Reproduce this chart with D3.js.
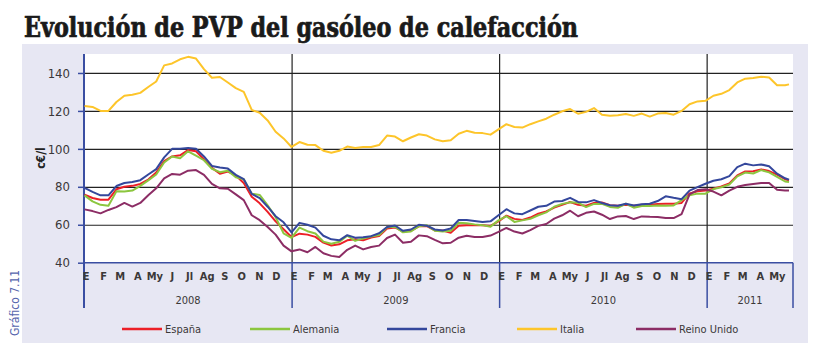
<!DOCTYPE html>
<html>
<head>
<meta charset="utf-8">
<script src="https://cdn.jsdelivr.net/npm/d3@7"></script>
<style>
  body { margin: 0; background: #fff; }
  text { font-family: "Liberation Sans Narrow", "DejaVu Sans", sans-serif; font-stretch: condensed; }
</style>
</head>
<body>
<div id="chart"></div>
<script>
// semanas desde el 1 de enero de 2008 (una lectura cada dos semanas)
var semanas = d3.range(0, 177, 2).concat([177])
var meses = ["E", "F", "M", "A", "My", "J", "Jl", "Ag", "S", "O", "N", "D"]
var anios = ["2008", "2009", "2010", "2011"]
var yTicks = [40, 60, 80, 100, 120, 140]

var espana = [75.9, 74.1, 73.2, 73.2, 78.7, 80, 80.5, 81.5, 83.8, 87.5,
  93.6, 96, 96.6, 99.4, 98.7, 94.5, 90, 86.9, 88, 86,
  82, 74.8, 71.3, 66.8, 61.8, 57.6, 53.5, 55.3, 54.8, 53.6,
  50.6, 49.1, 49.7, 51.8, 52.3, 51.8, 53.3, 54, 58, 58.6,
  56.4, 56.8, 59.2, 59.3, 57, 57, 55.8, 59.5, 59.7, 59.7,
  59.7, 59.4, 61.8, 64.8, 63.1, 62.5, 63.8, 65.8, 67, 69,
  70.5, 72, 70.5, 70, 71.5, 71.7, 70.3, 70, 70.5, 70,
  70.5, 70.6, 71, 71.1, 71.1, 71.5, 76.5, 77.6, 78.1, 79,
  80.2, 81.8, 86, 88.1, 88.2, 89.2, 88.3, 86.4, 84,
  83.4]

var alemania = [75.5, 72.3, 70.5, 70, 77.6, 77.5, 78, 80.5, 83.4, 86.5,
  92.8, 96, 95, 98.7, 96.4, 94, 89.5, 87.7, 88.5, 85,
  84, 76.4, 75.7, 70.2, 64, 55.5, 53.1, 58.5, 56.6, 55.4,
  51.1, 50, 51, 54.2, 51.5, 52.8, 53.8, 54.6, 58.7, 59,
  56, 56.5, 59.2, 59.7, 56.9, 56.5, 56.8, 61, 60.8, 60.2,
  59.8, 59, 62.3, 64.5, 61.5, 62.3, 63.1, 65, 66.5, 69.5,
  71, 71.8, 71.6, 69.3, 71, 71, 69.4, 68.9, 71.1, 69,
  69.9, 69.9, 70.1, 70, 70.2, 73, 75.5, 76.4, 76.4, 78.8,
  79.8, 81.2, 85.5, 87.5, 87, 88.8, 87.6, 85.2, 82.8,
  82.5]

var francia = [79.4, 77.3, 75.5, 75.5, 80.4, 82, 82.5, 83.5, 86.5, 89.3,
  95.5, 100, 100, 100.5, 100.1, 96, 91, 90.2, 89.6, 86.3,
  84, 76.3, 74, 69.5, 64.5, 61.3, 56, 61, 60, 58.5,
  54.2, 52.3, 51.8, 54.5, 53.2, 53.4, 54, 55.5, 58.8, 59.6,
  56.8, 57.5, 60, 59.5, 57.5, 57, 58, 62.5, 62.5, 62,
  61.5, 61.8, 65, 68.2, 66, 65.6, 67.5, 69.5, 70, 72.2,
  72.5, 74.2, 72, 71.8, 73, 71.5, 70.3, 70, 71.1, 70.1,
  70.8, 71.1, 72.5, 75, 74.2, 73.5, 78, 79.8, 81.6, 83.2,
  84, 85.6, 90.4, 92.2, 91.3, 91.8, 90.8, 86.9, 84.5,
  83.8]

var italia = [122.6, 122.1, 120, 120, 124.7, 128, 128.5, 129.5, 132.6, 135.5,
  144, 145, 147.2, 148.5, 147.6, 142, 137.5, 137.9, 135, 132,
  130, 120.5, 119, 115, 109, 105.5, 101, 103.6, 102.2, 102,
  99, 98, 99, 101.2, 100.5, 101, 101, 102, 107, 106.5,
  104, 106, 107.7, 107, 105, 104, 104.5, 108, 109.5, 108.5,
  108.3, 107.5, 110.3, 113, 111.5, 111.2, 113, 114.5, 115.9, 118,
  119.8, 121, 118.5, 119.5, 121.5, 118, 117.4, 117.7, 118.4, 117.4,
  118.6, 117, 118.6, 118.9, 118, 120, 123.5, 125, 125.3, 128,
  129, 131, 135, 137, 137.4, 138, 137.6, 133.5, 133.5,
  134]

var reinoUnido = [68.1, 67.2, 66, 67.8, 69.3, 71.5, 69.6, 71.5, 75.5, 79.2,
  84.5, 86.8, 86.4, 88.5, 88.8, 86.3, 81.5, 79.2, 79, 76,
  73, 65, 62.4, 58.8, 54.8, 49, 46, 47, 45.5, 48.3,
  45, 43.6, 43, 46.8, 49, 47, 48.3, 49, 53, 54.8,
  50.5, 51, 54.4, 54, 52, 50.2, 50.5, 53.2, 54.2, 53.5,
  53.5, 54.3, 56.2, 58.3, 56.4, 55.4, 57.2, 59.4, 60.4, 63.2,
  65, 67.4, 64.5, 66.3, 67, 65.3, 63, 64.4, 64.6, 63,
  64.4, 64.2, 64.1, 63.6, 63.5, 65.6, 76, 78.3, 78.7, 77.5,
  75.5, 78, 80, 81, 81.5, 82, 82, 78.5, 78.1,
  78.1]

var series = [
  { name: "España", values: espana, color: "#ec1f27" },
  { name: "Alemania", values: alemania, color: "#8cc63f" },
  { name: "Francia", values: francia, color: "#34479c" },
  { name: "Italia", values: italia, color: "#fdc52a" },
  { name: "Reino Unido", values: reinoUnido, color: "#8c2d65" }
]

var width = 839, height = 352
var plotLeft = 84, plotRight = 793, plotTop = 54, plotBottom = 262.7, axisEnd = 308
var axisBlue = "#3a4ea2", textColor = "#3b3838"

var inicio = new Date(2008, 0, 1)
var fin = new Date(2011, 5, 1)
var fechas = semanas.map(function(w) { return d3.timeDay.offset(new Date(2008, 0, 2), w * 7) })

var x = d3.scaleTime().domain([inicio, fin]).range([plotLeft, plotRight])
var y = d3.scaleLinear().domain([40, 150]).range([plotBottom, plotTop])

var svg = d3.select("#chart").append("svg")
  .attr("width", width)
  .attr("height", height)

// titulo
svg.append("text")
  .attr("x", 24).attr("y", 37)
  .attr("textLength", 554).attr("lengthAdjust", "spacingAndGlyphs")
  .style("font-family", "'DejaVu Serif', serif")
  .style("font-stretch", "condensed")
  .style("font-weight", "bold").style("font-size", "27px")
  .attr("fill", "#1a1a1a").attr("stroke", "#1a1a1a").attr("stroke-width", 0.7)
  .text("Evolución de PVP del gasóleo de calefacción")

// fondo
svg.append("rect").attr("x", 22).attr("y", 44).attr("width", 786).attr("height", 299).attr("fill", "#e7e7f3")
svg.append("rect").attr("x", plotLeft).attr("y", plotTop).attr("width", plotRight - plotLeft).attr("height", plotBottom - plotTop).attr("fill", "#fff")

svg.append("text")
  .attr("transform", "translate(19,336) rotate(-90)")
  .attr("fill", "#5565ad").style("font-size", "12px")
  .text("Gráfico 7.11")

// rejilla
svg.append("g")
  .attr("transform", "translate(" + plotLeft + ",0)")
  .call(d3.axisLeft(y).tickValues(yTicks.slice(1)).tickSize(-(plotRight - plotLeft)).tickFormat(""))
  .call(function(g) { g.select(".domain").remove() })
  .selectAll("line").attr("stroke", "#222").attr("stroke-width", 1.2)

// divisiones de año
var cortes = d3.timeYear.range(d3.timeYear.offset(inicio, 1), fin)
svg.append("g").selectAll("line")
  .data(cortes).enter().append("line")
  .attr("x1", function(d) { return x(d) }).attr("x2", function(d) { return x(d) })
  .attr("y1", plotTop).attr("y2", plotBottom)
  .attr("stroke", "#222").attr("stroke-width", 1.2)
svg.append("g").selectAll("line")
  .data([inicio].concat(cortes).concat([fin])).enter().append("line")
  .attr("x1", function(d) { return x(d) }).attr("x2", function(d) { return x(d) })
  .attr("y1", plotBottom).attr("y2", axisEnd)
  .attr("stroke", axisBlue).attr("stroke-width", 1.5)

// eje y
var yAxis = svg.append("g")
  .attr("transform", "translate(" + plotLeft + ",0)")
  .call(d3.axisLeft(y).tickValues(yTicks).tickSize(6).tickPadding(8))
yAxis.select(".domain").remove()
yAxis.selectAll("line").attr("stroke", axisBlue).attr("stroke-width", 1.5)
yAxis.selectAll("text").attr("fill", textColor).style("font-size", "13px")
  .style("font-family", "'Liberation Sans Narrow', 'DejaVu Sans', sans-serif")
  .style("font-stretch", "condensed")
svg.append("line").attr("x1", plotLeft).attr("x2", plotLeft).attr("y1", plotTop).attr("y2", axisEnd)
  .attr("stroke", axisBlue).attr("stroke-width", 2)
svg.append("line").attr("x1", plotLeft).attr("x2", plotRight).attr("y1", plotBottom).attr("y2", plotBottom)
  .attr("stroke", axisBlue).attr("stroke-width", 1.5)

svg.append("text")
  .attr("transform", "translate(45,158) rotate(-90)")
  .attr("text-anchor", "middle")
  .attr("fill", "#222").style("font-size", "12px").style("font-weight", "bold")
  .text("c€/l")

// meses
var xAxis = svg.append("g")
  .attr("transform", "translate(0," + plotBottom + ")")
  .call(d3.axisBottom(x)
    .tickValues(d3.timeMonth.range(inicio, fin))
    .tickSize(0).tickPadding(10)
    .tickFormat(function(d) { return meses[d.getMonth()] }))
xAxis.select(".domain").remove()
xAxis.selectAll("text").attr("dx", 1.5).attr("fill", textColor)
  .style("font-size", "11px").style("font-weight", "bold")
  .style("font-family", "'Liberation Sans Narrow', 'DejaVu Sans', sans-serif")
  .style("font-stretch", "condensed")

// años
svg.append("g").selectAll("text")
  .data(anios).enter().append("text")
  .attr("x", function(d) {
    var a = new Date(+d, 0, 1), b = d3.min([new Date(+d + 1, 0, 1), fin])
    return (x(a) + x(b)) / 2
  })
  .attr("y", 304)
  .attr("text-anchor", "middle")
  .attr("fill", textColor).style("font-size", "11px")
  .text(function(d) { return d })

// lineas
var line = d3.line()
  .x(function(d, i) { return x(fechas[i]) })
  .y(function(d) { return y(d) })

svg.append("g").selectAll("path")
  .data(series).enter().append("path")
  .attr("d", function(d) { return line(d.values) })
  .attr("fill", "none")
  .attr("stroke", function(d) { return d.color })
  .attr("stroke-width", 2)
  .attr("stroke-linejoin", "round")

// leyenda
var legX = [122, 250, 387, 517, 636]
var leg = svg.append("g").selectAll("g")
  .data(series).enter().append("g")
  .attr("transform", function(d, i) { return "translate(" + legX[i] + ",329)" })
leg.append("line").attr("x1", 0).attr("x2", 40)
  .attr("stroke", function(d) { return d.color }).attr("stroke-width", 2.5)
leg.append("text").attr("x", 43).attr("y", 4)
  .attr("fill", textColor).style("font-size", "11px")
  .text(function(d) { return d.name })
</script>
</body>
</html>
